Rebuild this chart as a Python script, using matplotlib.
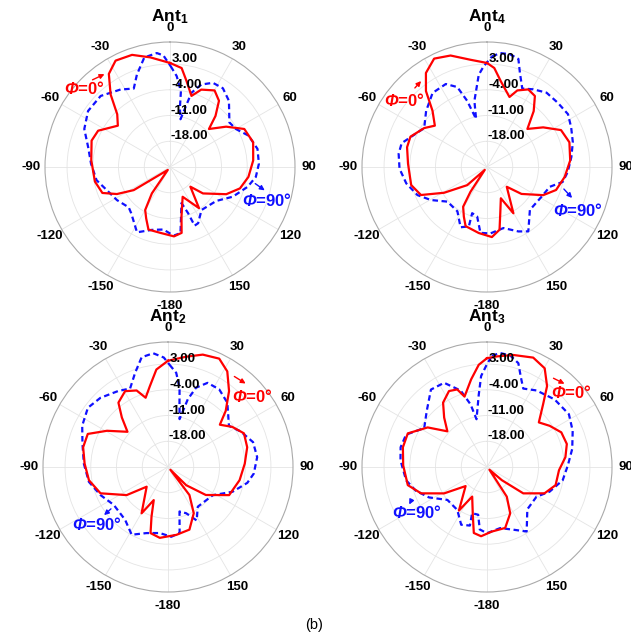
import numpy as np
import matplotlib
matplotlib.use("Agg")
import matplotlib.pyplot as plt

plt.rcParams['font.family'] = ['Liberation Sans', 'DejaVu Sans']
plt.rcParams['mathtext.fontset'] = 'custom'
plt.rcParams['mathtext.rm'] = 'Liberation Sans'
plt.rcParams['mathtext.it'] = 'Liberation Sans:italic'
plt.rcParams['mathtext.bf'] = 'Liberation Sans:bold'
plt.rcParams['mathtext.bfit'] = 'Liberation Sans:bold:italic'

# radial ticks (dB) and angle labels
r_ticks = [-18, -11, -4, 3]
r_min, r_max = -25, 9
theta_labels = ['0', '30', '60', '90', '120', '150', '-180', '-150', '-120', '-90', '-60', '-30']

# Ant1
ant1_red_deg = [0, 6.7, 10.9, 16.8, 22, 30.2, 36.5, 41.7, 45.7, 54.3, 62.9, 73.4, 85.5, 97.2, 107, 115.8,
                128.7, 134, 144.8, 157, 166.9, 170, 176.7, 188.5, 199, 204.9, 210, 214.5, 217, 237.5, 243,
                249, 259, 275, 288.6, 296.8, 308.4, 315, 320.7, 326.7, 332.9, 341.3, 349.8, 360]
ant1_red_db = [3.3, 2.1, -1.2, -4.8, -2.3, -0.9, -2.6, -6.4, -10.2, -6.2, -2.3, -1.4, -2.3, -3.5, -5.1, -8.0,
               -13.5, -17.3, -11.3, -16.2, -11.2, -6.8, -6.1, -6.9, -7.0, -9.6, -11.5, -16.3, -24, -13.3, -8.8,
               -5.3, -4.2, -3.5, -2.5, -3.1, -6.9, -4.7, 0.5, 5.3, 7.5, 7.2, 5.3, 3.3]
ant1_blue_deg = [0.4, 4.2, 8.2, 9.5, 12.4, 16.1, 20.8, 27, 33.9, 41.7, 53.1, 60.1, 68.2, 78.3, 87.9, 96.6,
                 104.3, 115.3, 126.3, 143.8, 153.4, 157.2, 158.6, 162.3, 171, 177, 186, 196.1, 206.8, 220.1,
                 225.7, 238, 249.2, 259.8, 272.4, 283.6, 293.9, 304.4, 315.7, 327.5, 335.2, 340.3, 346.8,
                 353.4, 356.6, 360.4]
ant1_blue_db = [2.4, -0.2, -4.2, -8.7, -11.7, -4.0, -1.0, 0.7, 0.8, -0.9, -4.8, -4.3, -2.0, -0.7, -0.8, -1.5,
                -3.2, -6.1, -9.4, -10.5, -7.9, -7.7, -11.5, -14.7, -6.8, -6.3, -7.9, -7.2, -5.1, -8.6,
                -9.3, -8.0, -6.8, -4.7, -3.5, -2.1, 0.5, 2.0, 2.0, 0.0, -1.5, 1.7, 5.6,
                6.2, 5.4, 2.4]

# Ant4
ant4_red_deg = [0, 4.2, 9.2, 17.8, 21.6, 28, 34, 39.9, 46.7, 54.8, 63.5, 73.3, 85.5, 97.3, 108.4, 116.6,
                128, 135, 150.3, 156.1, 164, 168.7, 176, 187.1, 199.9, 205, 211, 213.7, 218, 227.5, 239, 247,
                256.6, 272.4, 283.9, 291.6, 301.8, 308.4, 315.9, 321.2, 327, 334, 341.9, 351.3, 360]
ant4_red_db = [3.3, 2.0, -1.4, -5.0, -2.6, -1.1, -1.7, -5.2, -9.9, -6.3, -2.5, -1.6, -2.3, -3.7, -5.2, -7.9,
               -13.1, -17.4, -10.5, -15.7, -11.9, -7.6, -5.9, -6.9, -7.9, -10.1, -12.4, -16.9, -24, -17.7, -11.4,
               -5.5, -3.8, -3.5, -2.6, -2.6, -4.9, -6.9, -3.7, 1.5, 5.5, 7.8, 6.9, 4.5, 3.3]
ant4_blue_deg = [2.6, 6.6, 11.6, 16.2, 19.3, 24.2, 30.8, 38.7, 47.8, 56.9, 64.8, 73.9, 83.3, 93.5, 101.1,
                 107.5, 118.6, 135, 147.3, 154, 164.9, 177.2, 185.7, 191.3, 197.8, 197, 203.7, 213.7, 228.8,
                 239.5, 248, 258.5, 268.9, 278.5, 285.6, 292.9, 301.8, 312.6, 323.7, 333.6, 339.6, 343.3,
                 347.2, 349.2, 354.9, 358.1, 362.6]
ant4_blue_db = [5.1, 6.2, 6.3, 5.6, 2.1, -1.6, -0.4, 0.9, 1.0, 1.3, 0.3, -0.7, -1.9, -3.0, -4.0,
                -7.1, -8.1, -8.5, -4.2, -5.5, -7.8, -6.9, -7.0, -11.3, -11.8, -8.1, -7.1, -10.5, -10.7,
                -7.3, -4.6, -2.6, -1.2, -0.7, -0.9, -3.1, -4.9, -2.5, 0.0, 0.2, -1.8, -6.2,
                -11.6, -6.7, 0.2, 2.4, 5.1]

# Ant2
ant2_red_deg = [0, 9.3, 17.2, 25.3, 31.8, 38.8, 45.8, 50.8, 58, 66.1, 76, 87.5, 100.4, 114.7, 126.5, 135,
                139, 142.6, 150.9, 161.1, 173, 186.6, 194.8, 198.4, 203.3, 209.7, 227.3, 235.8, 248.7, 260.5,
                272.3, 283.1, 292.4, 300.7, 311, 317, 322.4, 330.5, 337.7, 342.1, 347.3, 353.2, 360]
ant2_red_db = [3.9, 5.4, 7.0, 7.6, 5.6, 1.5, -3.1, -6.8, -4.4, -2.4, -2.8, -4.1, -5.2, -6.7, -12.2, -18.0,
               -24, -15.4, -10.6, -7.0, -6.4, -5.6, -6.4, -10.8, -15.2, -10.5, -17.1, -11.4, -5.3, -3.2,
               -2.3, -1.3, -1.4, -5.7, -10.4, -6.6, -2.9, -1.3, -2.5, -5.2, -2.5, 1.7, 3.9]
ant2_blue_deg = [0.9, 5, 8.3, 10.4, 13.6, 16.3, 19.5, 25.2, 33.4, 42.7, 56, 63.9, 73.7, 83.7, 94.4, 101.3,
                 111, 122.2, 143.1, 151.8, 158.6, 165.5, 170, 177.3, 187.1, 198, 208.2, 219.1, 235.1,
                 247.5, 259.4, 272.2, 285.1, 295.7, 306.5, 315.7, 326.9, 334.2, 340.7, 346.5, 352.6,
                 357.8, 360.9]
ant2_blue_db = [2.8, 0.7, -3.2, -7.7, -11.6, -5.8, -2.1, 0.3, 0.3, -1.2, -5.0, -3.0, -0.9, -0.6, -1.6, -3.0,
                -6.2, -10.6, -11.5, -8.5, -11.5, -12.5, -6.8, -6.0, -6.9, -6.1, -4.1, -6.5, -7.0,
                -5.1, -3.1, -2.1, -0.9, 0.9, 2.1, 1.3, -0.3, -1.3, 2.1, 5.7, 6.2,
                4.8, 2.8]

# Ant3
ant3_red_deg = [0, 5.1, 13.2, 22.9, 30.3, 36.6, 41.8, 49.3, 56.7, 65, 73.9, 82.8, 92.6, 104.8, 114.6, 126,
                131.6, 138, 146.3, 153.4, 163.4, 175.6, 184.9, 191.3, 196.5, 206.6, 212.8, 228.3, 238.4, 248.2,
                257.1, 271.1, 283.2, 293, 303.7, 312, 319.1, 325.7, 333.4, 339, 342.3, 349.7, 355.4, 360]
ant3_red_db = [4.6, 5.2, 6.3, 7.3, 6.1, 2.4, -2.1, -6.4, -4.6, -2.7, -2.4, -3.5, -5.4, -5.7, -7.8, -12.8,
               -19.6, -24, -15.3, -10.9, -7.7, -7.4, -6.1, -6.7, -11.4, -16.0, -10.9, -17.2, -11.3, -5.7,
               -2.9, -2.2, -1.5, -1.6, -5.6, -10.5, -7.2, -3.8, -1.9, -2.4, -4.9, -0.8, 2.9, 4.6]
ant3_blue_deg = [2.5, 6.6, 11.7, 16.8, 20.4, 24.8, 32.9, 45, 57.2, 67.1, 78, 88.8, 99.9, 111.5, 121, 136.4,
                 148.4, 157.2, 167.8, 180, 186.6, 190.5, 197.8, 196.3, 204.1, 214.7, 230.2, 242.3, 251.5,
                 260.7, 274.4, 282.9, 291.8, 301.8, 313, 324.1, 333, 341, 345.3, 347.6, 353.5, 356.3,
                 359.6, 362.5]
ant3_blue_db = [5.3, 6.2, 6.0, 4.5, 1.3, -1.5, -0.2, 1.0, 1.5, 0.3, -1.3, -3.0, -4.1, -6.7, -9.3, -9.1,
                -4.4, -6.5, -8.0, -7.0, -7.9, -11.8, -11.8, -8.4, -7.8, -10.8, -11.0, -7.2, -4.6,
                -2.7, -1.4, -0.9, -1.3, -4.9, -2.6, 1.0, 0.7, -3.0, -7.4, -11.7, -5.2, -0.2,
                2.6, 5.3]

W, H = 631, 636
fig = plt.figure(figsize=(W / 100, H / 100), dpi=100)

RED = '#ff0000'
BLUE = '#1010ff'


def draw_panel(cx, cy, title, red_deg, red_db, blue_deg, blue_db):
    rad = 125
    ax = fig.add_axes([(cx - rad) / W, 1 - (cy + rad) / H, 2 * rad / W, 2 * rad / H], projection='polar')
    ax.set_theta_zero_location('N')
    ax.set_theta_direction(-1)
    ax.set_ylim(r_min, r_max)
    ax.set_yticks(r_ticks)
    ax.set_yticklabels([])
    ax.set_xticks(np.radians(np.arange(0, 360, 30)))
    ax.set_xticklabels(theta_labels, fontsize=9.5, fontweight='bold')
    ax.set_xticks(np.radians(np.arange(0, 360, 5)), minor=True)
    ax.tick_params(axis='x', which='major', pad=3, length=0)
    ax.tick_params(axis='x', which='minor', length=3.5, color='#9a9a9a', width=0.7, direction='in')
    ax.grid(True, color='#e4e4e4', lw=0.6)
    ax.spines['polar'].set_color('#aaaaaa')
    ax.spines['polar'].set_linewidth(0.8)

    ax.plot(np.radians(blue_deg), blue_db, color=BLUE, lw=1.6, ls=(0, (2.5, 1.6)))
    ax.plot(np.radians(red_deg), red_db, color=RED, lw=1.6)

    for v in r_ticks:
        ax.text(np.radians(1.0), v + 1.3, '%.2f' % v, ha='left', va='center',
                fontsize=9.5, fontweight='bold', zorder=5)
    ax.text(0.5, 1.1, title, transform=ax.transAxes, ha='center', va='center',
            fontsize=12.5, fontweight='bold')
    return ax


def label(text, x, y, color):
    fig.text(x / W, 1 - y / H, text, color=color, fontsize=12, fontweight='bold',
             ha='center', va='center')


def arrow(x0, y0, x1, y1, color):
    fig.add_artist(matplotlib.patches.FancyArrowPatch(
        (x0 / W, 1 - y0 / H), (x1 / W, 1 - y1 / H), transform=fig.transFigure,
        arrowstyle='-|>', mutation_scale=7, color=color, lw=1.0))


draw_panel(170, 167, r'Ant$_\mathbf{1}$', ant1_red_deg, ant1_red_db, ant1_blue_deg, ant1_blue_db)
draw_panel(487, 167, r'Ant$_\mathbf{4}$', ant4_red_deg, ant4_red_db, ant4_blue_deg, ant4_blue_db)
draw_panel(168, 467, r'Ant$_\mathbf{2}$', ant2_red_deg, ant2_red_db, ant2_blue_deg, ant2_blue_db)
draw_panel(487, 467, r'Ant$_\mathbf{3}$', ant3_red_deg, ant3_red_db, ant3_blue_deg, ant3_blue_db)

phi0 = r'$\mathbfit{\Phi}$=0°'
phi90 = r'$\mathbfit{\Phi}$=90°'

# Ant1
label(phi0, 84, 89, RED)
arrow(90, 81, 107, 73, RED)
label(phi90, 267, 201, BLUE)
arrow(253, 182, 267, 192, BLUE)
# Ant4
label(phi0, 404, 100, RED)
arrow(413, 90, 423, 79, RED)
label(phi90, 578, 210, BLUE)
arrow(562, 187, 574, 200, BLUE)
# Ant2
label(phi0, 252, 397, RED)
arrow(232, 375, 248, 385, RED)
label(phi90, 97, 525, BLUE)
arrow(113, 507, 102, 517, BLUE)
# Ant3
label(phi0, 571, 393, RED)
arrow(551, 377, 567, 385, RED)
label(phi90, 417, 512, BLUE)
arrow(413, 497, 408, 507, BLUE)

fig.text(314 / W, 1 - 625 / H, '(b)', ha='center', va='center', fontsize=10.5)

fig.savefig('out.png', dpi=100)
